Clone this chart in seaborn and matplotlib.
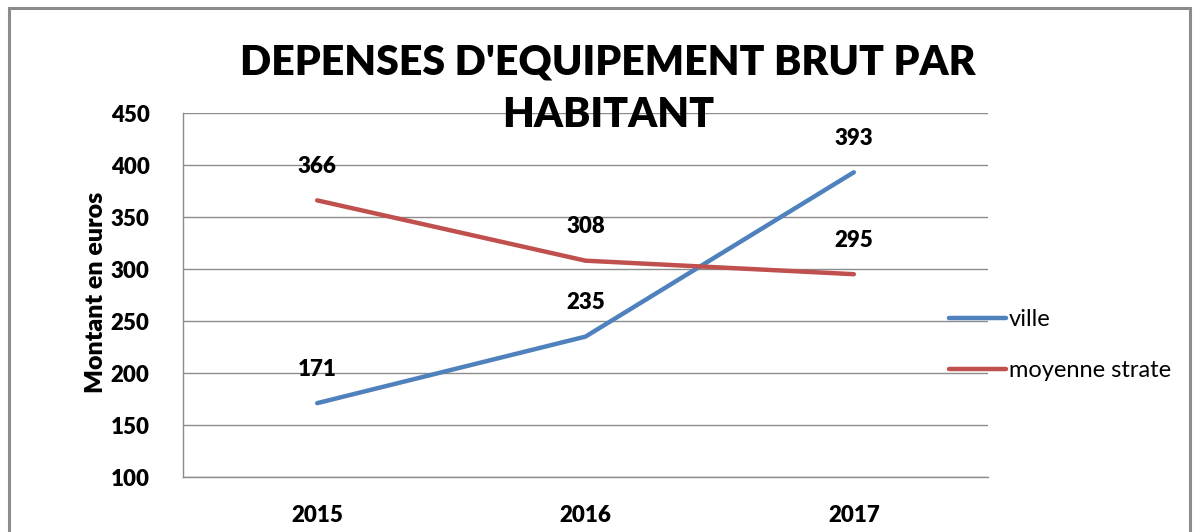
import matplotlib
matplotlib.use("Agg")
import matplotlib.pyplot as plt
import seaborn as sns
import pandas as pd
from matplotlib.patches import Rectangle
from matplotlib.lines import Line2D

years = ["2015", "2016", "2017"]
ville = [171, 235, 393]
moyenne = [366, 308, 295]
series_names = ["ville", "moyenne strate"]
colors = ["#4F81BD", "#C0504D"]

sns.set_theme(style="white")
plt.rcParams['font.family'] = ['Lato', 'DejaVu Sans']
plt.rcParams['text.color'] = 'black'
plt.rcParams['xtick.color'] = 'black'
plt.rcParams['ytick.color'] = 'black'

df = pd.DataFrame({
    "year": list(range(len(years))) * 2,
    "value": ville + moyenne,
    "serie": [series_names[0]] * 3 + [series_names[1]] * 3,
})

W, H = 1194, 532
fig = plt.figure(figsize=(W / 100, H / 100), dpi=100)
fig.patch.set_facecolor("white")
fig.patches.append(Rectangle((9 / W, -0.1), (1190 - 9) / W, (H - 8) / H + 0.1,
                             transform=fig.transFigure, fill=False,
                             edgecolor="#8c8c8c", linewidth=2.2))

ax = fig.add_axes([183 / W, (H - 477) / H, (988 - 183) / W, (477 - 113) / H])
sns.lineplot(data=df, x="year", y="value", hue="serie", palette=colors,
             linewidth=3.2, ax=ax, legend=False, solid_capstyle="round")

ax.set_xlim(-0.5, 2.5)
ax.set_ylim(100, 450)
ax.set_yticks(range(100, 451, 50))
ax.set_xticks(range(len(years)))
ax.set_xticklabels(years)
ax.yaxis.grid(True, color="#8c8c8c", linewidth=1)
ax.xaxis.grid(False)
for s in ["top", "right"]:
    ax.spines[s].set_visible(False)
for s in ["left", "bottom"]:
    ax.spines[s].set_color("#8c8c8c")
    ax.spines[s].set_linewidth(1)
ax.tick_params(axis="y", length=0, pad=24, labelsize=16)
ax.tick_params(axis="x", length=0, pad=20, labelsize=16)
for lbl in ax.get_xticklabels() + ax.get_yticklabels():
    lbl.set_fontweight("heavy")
ax.set_xlabel("")
ax.set_ylabel("")
fig.text(96 / W, 1 - 292 / H, "Montant en euros", rotation=90, ha="center", va="center",
         fontsize=18, fontweight="heavy")

for vals in (ville, moyenne):
    for i, v in enumerate(vals):
        ax.annotate(str(v), (i, v), xytext=(0, 24.5), textcoords="offset points",
                    ha="center", va="center", fontsize=16, fontweight="heavy")

fig.text(608 / W, 1 - 62 / H, "DEPENSES D'EQUIPEMENT BRUT PAR", ha="center", va="center",
         fontsize=29.5, fontweight="heavy")
fig.text(608 / W, 1 - 115 / H, "HABITANT", ha="center", va="center",
         fontsize=29.5, fontweight="heavy")

handles = [Line2D([0], [0], color=c, linewidth=3.2, solid_capstyle="round") for c in colors]
fig.legend(handles, series_names, loc="center left", bbox_to_anchor=(949 / W, 1 - 345 / H),
           frameon=False, fontsize=17, handlelength=2.4, handletextpad=0.15,
           labelspacing=1.27, borderaxespad=0, borderpad=0)

fig.savefig("out.png", dpi=100)
